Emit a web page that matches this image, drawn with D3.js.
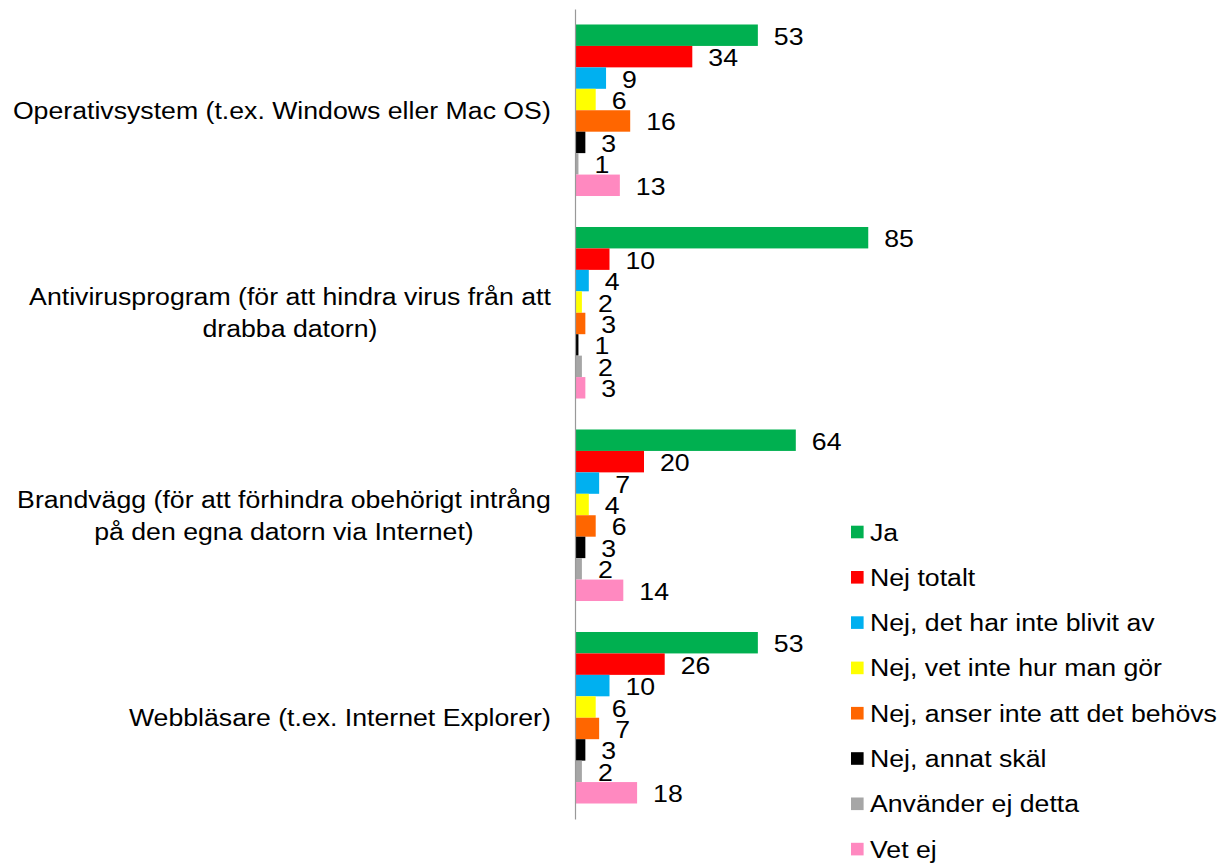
<!DOCTYPE html>
<html>
<head>
<meta charset="utf-8">
<script src="https://cdn.jsdelivr.net/npm/d3@7"></script>
<style>
  body { margin: 0; background: #fff; }
  svg text { font-family: "Liberation Sans", Arial, sans-serif; font-size: 24px; fill: #000; }
</style>
</head>
<body>
<svg id="chart"></svg>
<script>
// category labels, line breaks as in the original
var categories = [
  "Operativsystem (t.ex. Windows eller Mac OS)",
  "Antivirusprogram (för att hindra virus från att\ndrabba datorn)",
  "Brandvägg (för att förhindra obehörigt intrång\npå den egna datorn via Internet)",
  "Webbläsare (t.ex. Internet Explorer)"
];

var series = ["Ja", "Nej totalt", "Nej, det har inte blivit av", "Nej, vet inte hur man gör",
  "Nej, anser inte att det behövs", "Nej, annat skäl", "Använder ej detta", "Vet ej"];

var colors = ["#00b050", "#ff0000", "#00b0f0", "#ffff00", "#ff6600", "#000000", "#a6a6a6", "#ff89c0"];

var valuesOperativsystem = [53, 34, 9, 6, 16, 3, 1, 13];
var valuesAntivirus      = [85, 10, 4, 2, 3, 1, 2, 3];
var valuesBrandvagg      = [64, 20, 7, 4, 6, 3, 2, 14];
var valuesWebblasare     = [53, 26, 10, 6, 7, 3, 2, 18];

var values = [valuesOperativsystem, valuesAntivirus, valuesBrandvagg, valuesWebblasare];

var W = 1223, H = 863,
    sx = 1.112;   // original text is a bit wider than plain Arial

var svg = d3.select('#chart').attr('width', W).attr('height', H);

var x = d3.scaleLinear().domain([0, 100]).range([575, 920]);

var y0 = d3.scaleBand().domain(categories).range([9, 819])
    .paddingInner(0.153).paddingOuter(0.0765);
var y1 = d3.scaleBand().domain(series).range([0, y0.bandwidth()]);

// place a text with horizontal stretch
function place(t, px, py) {
  t.attr('transform', 'translate(' + px + ',' + py + ') scale(' + sx + ',1)');
}

// bars
var groups = svg.append('g').selectAll('g')
    .data(categories)
  .enter().append('g')
    .attr('transform', function(d) { return 'translate(0,' + y0(d) + ')'; });

groups.selectAll('rect')
    .data(function(d, i) { return values[i].map(function(v, j) { return {s: series[j], v: v, c: colors[j]}; }); })
  .enter().append('rect')
    .attr('x', x(0))
    .attr('y', function(d) { return y1(d.s); })
    .attr('width', function(d) { return x(d.v) - x(0); })
    .attr('height', y1.bandwidth())
    .attr('fill', function(d) { return d.c; });

// value labels
groups.selectAll('text')
    .data(function(d, i) { return values[i].map(function(v, j) { return {s: series[j], v: v}; }); })
  .enter().append('text')
    .text(function(d) { return d.v; })
    .each(function(d) {
      place(d3.select(this), x(d.v) + 16, y1(d.s) + y1.bandwidth() / 2 + 9.5);
    });

// axis line
svg.append('g')
    .attr('transform', 'translate(575,0)')
    .call(d3.axisLeft(y0).tickSize(0).tickFormat(''))
    .call(function(g) { g.select('.domain').attr('stroke', '#999').attr('stroke-width', 1.2); });

// category labels: block right aligned, lines centered inside
var rightEdge = 551, lineH = 32;
categories.forEach(function(c) {
  var lines = c.split('\n');
  var cy = y0(c) + y0.bandwidth() / 2;
  var texts = lines.map(function(l) { return svg.append('text').attr('text-anchor', 'middle').text(l); });
  var blockW = d3.max(texts, function(t) { return t.node().getComputedTextLength(); }) * sx;
  texts.forEach(function(t, i) {
    place(t, rightEdge - blockW / 2, cy + (i - (lines.length - 1) / 2) * lineH + 8.5);
  });
});

// legend
var legend = svg.append('g').selectAll('g')
    .data(series)
  .enter().append('g')
    .attr('transform', function(d, i) { return 'translate(0,' + (532 + i * 45.3) + ')'; });

legend.append('rect')
    .attr('x', 851).attr('y', -6.3)
    .attr('width', 12.6).attr('height', 12.6)
    .attr('fill', function(d, i) { return colors[i]; });

legend.append('text')
    .text(function(d) { return d; })
    .each(function() { place(d3.select(this), 870, 8.5); });
</script>
</body>
</html>
